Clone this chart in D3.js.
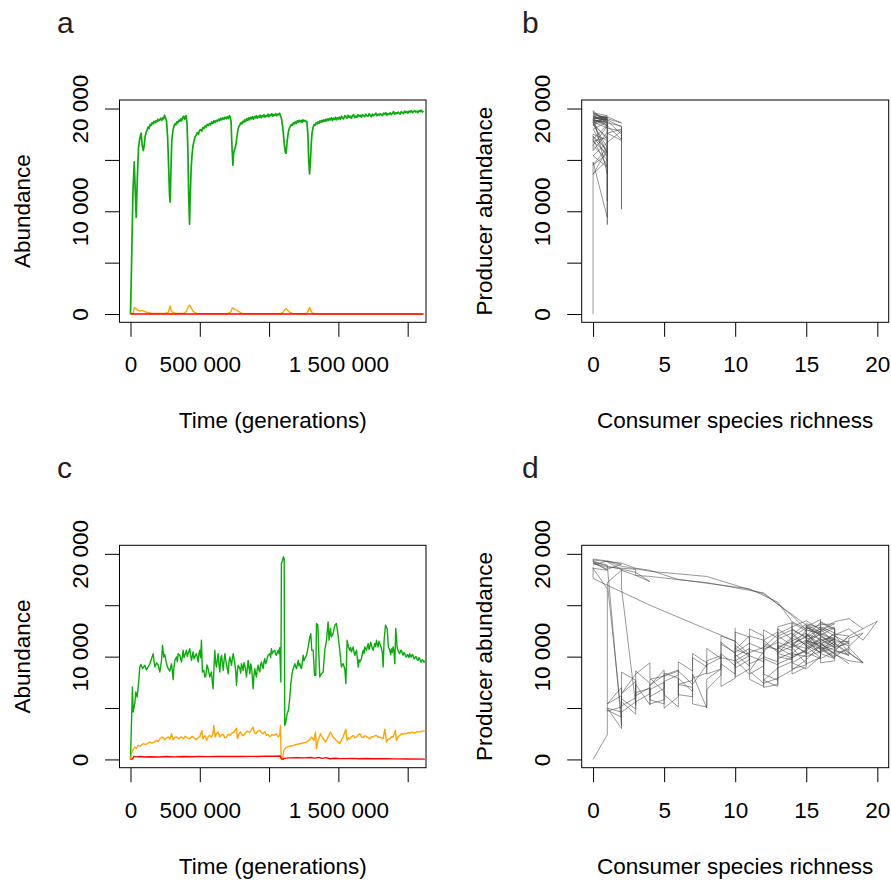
<!DOCTYPE html>
<html>
<head>
<meta charset="utf-8">
<script src="https://cdn.jsdelivr.net/npm/d3@7"></script>
<style>
  body { margin: 0; background: #fff; }
</style>
</head>
<body>
<svg id="fig" width="891" height="882"></svg>
<script>
// time in thousands of generations, abundance in individuals
const timeTicks = [0, 500000, 1000000, 1500000, 2000000];
const timeTickLabels = ["0", "500 000", "", "1 500 000", ""];
const abundTicks = [0, 5000, 10000, 15000, 20000];
const abundTickLabels = ["0", "", "10 000", "", "20 000"];
const richTicks = [0, 5, 10, 15, 20];
const richTickLabels = ["0", "5", "10", "15", "20"];

// panel a: producers (green), consumers (orange), predators (red)
const aProducers = [[0,0],[8,5000],[18,12000],[27,14800],[33,12500],[41,9400],[50,13500],[58,16200],[65,16900],[72,17400],[77,17600],[84,16500],[92,15900],[98,16300],[106,17300],[113,17700],
  [120,17900],[127,18200],[134,18050],[141,18450],[148,18350],[155,18600],[162,18500],[169,18750],[176,18600],[183,18800],[190,18700],[197,18950],[204,18800],[211,18900],[218,19050],[225,18850],[232,19100],[239,19000],[246,19350],[252,19100],
  [260,18800],[268,17200],[276,14000],[282,11500],[286,10900],[291,13500],[298,16900],
  [306,17800],[313,18250],[320,18500],[327,18400],[334,18700],[341,18600],[348,18850],[355,18750],[362,19000],[369,18800],[376,19100],[383,19250],[390,18950],[396,19200],[401,19300],
  [408,18500],[414,16000],[420,11500],[426,8740],[432,11800],[438,14200],[443,15300],[450,16300],
  [458,16800],[466,17250],[474,17400],[482,17650],[490,17500],[498,17850],[506,17950],[514,17800],[522,18150],[530,18050],[538,18300],[546,18200],[554,18450],[562,18350],[570,18550],[578,18400],[586,18700],[594,18550],[602,18800],[610,18650],[618,18850],[626,18750],[634,18950],[642,18800],[650,19050],[658,18900],[666,19100],[674,18950],[682,19150],[690,19000],[698,19200],[706,19050],[714,19300],[720,19150],
  [726,18700],[730,17000],[735,15500],[739,14480],[744,15600],[750,16000],[756,16200],[762,16600],[768,17300],
  [775,17900],[782,18250],[789,18400],[796,18600],[803,18500],[810,18750],[817,18650],[824,18900],[831,18750],[838,19000],[845,18850],[852,19100],[859,18900],[866,19150],[873,19000],[880,19200],[887,18950],[894,19200],[901,19100],[908,19300],[915,19050],[922,19250],[929,19150],[936,19350],[943,19100],[950,19300],[957,19200],[964,19400],[971,19150],[978,19300],[985,19250],[992,19450],[999,19200],[1006,19400],[1013,19300],[1020,19500],[1027,19250],[1034,19400],[1041,19350],[1048,19500],[1055,19300],[1062,19450],[1069,19400],[1076,19550],[1082,19300],
  [1090,19000],[1100,18000],[1110,16500],[1118,15700],[1123,15650],[1130,16800],
  [1140,17800],[1147,18100],[1154,18300],[1161,18450],[1168,18350],[1175,18600],[1182,18500],[1189,18700],[1196,18550],[1203,18800],[1210,18650],[1217,18850],[1224,18700],[1231,18850],[1238,18650],[1245,18900],[1252,18750],[1259,18850],[1266,18700],[1272,18750],
  [1280,17500],[1286,15000],[1292,13640],[1298,14800],[1304,16500],[1310,17600],
  [1318,18200],[1325,18450],[1332,18350],[1339,18600],[1346,18500],[1353,18700],[1360,18550],[1367,18800],[1374,18650],[1381,18850],[1388,18700],[1395,18900],[1402,18750],[1409,18950],[1416,18800],[1423,19000],[1430,18850],[1437,19050],[1444,18900],[1451,19100],[1458,18850],[1465,19050],[1472,18950],[1479,19150],[1486,18900],[1493,19100],[1500,19000],
  [1506,19150],[1514,18950],[1522,19250],[1530,19100],[1538,19000],[1546,19300],[1554,19200],[1562,19050],[1570,19350],[1578,19150],[1586,19250],[1594,19050],[1602,19300],[1610,19400],[1618,19100],[1626,19250],[1634,19150],[1642,19400],[1650,19250],[1658,19350],[1666,19150],[1674,19400],[1682,19300],[1690,19200],[1698,19450],[1706,19300],[1714,19250],[1722,19500],[1730,19350],[1738,19200],[1746,19450],[1754,19300],[1762,19400],[1770,19550],[1778,19300],[1786,19450],[1794,19350],[1802,19500],[1810,19400],[1818,19300],[1826,19550],[1834,19450],[1842,19600],[1850,19350],[1858,19500],[1866,19450],[1874,19600],[1882,19400],[1890,19550],[1898,19700],[1906,19450],[1914,19600],[1922,19500],[1930,19650],[1938,19550],[1946,19450],[1954,19700],[1962,19600],[1970,19500],[1978,19750],[1986,19600],[1994,19700],[2002,19550],[2010,19750],[2018,19650],[2026,19800],[2034,19600],[2042,19700],[2050,19800],[2058,19650],[2066,19750],[2074,19600],[2082,19800],[2090,19700],[2098,19850],[2106,19650],[2114,19750]];
const aConsumers = [[0,0],[20,100],[28,650],[40,500],[55,350],[70,300],[85,350],[100,250],[120,150],[150,80],[200,50],[250,60],[272,150],[280,500],[286,780],[292,400],[300,200],[315,100],[340,60],[390,80],[405,300],[415,650],[426,880],[438,600],[450,300],[465,150],[480,60],[520,30],[700,30],[725,200],[733,550],[739,600],[750,450],[765,400],[780,250],[800,80],[830,30],[1080,30],[1100,150],[1112,400],[1123,520],[1135,350],[1150,150],[1170,60],[1200,30],[1270,30],[1282,300],[1292,650],[1300,400],[1310,100],[1330,30],[1400,0],[2114,0]];
const aPredators = [[0,0],[500,0],[1000,0],[1500,0],[2114,0]];

// panel b: producer abundance against consumer richness
const bTrajectory = [[0,0],[0,14800],[1,9400],[1,16900],[0,17500],[0,15900],[1,17700],[1,18700],[0,18800],[1,19000],[0,19100],[1,18900],[1,17200],[0,16800],[1,15600],[0,14500],[1,16200],[0,18500],[1,19200],[1,11000],[1,17000],[0,18600],[0,19000],[1,19300],[0,19600],[0,19800],[1,18500],[1,8700],[1,15300],[0,17300],[1,16000],[0,13600],[1,15000],[0,16400],[1,18300],[0,18900],[1,18600],[2,18300],[2,16900],[1,17600],[2,18000],[2,10200],[2,17500],[1,18800],[0,19200],[1,19100],[0,18700],[1,18100],[2,17800],[1,16700],[0,15400],[1,14300],[0,17000],[1,18400],[0,19000],[1,19200],[2,18600],[1,19000],[0,18600],[1,15650],[0,18000],[1,18700],[0,19300],[1,13640],[1,17200],[0,18400],[1,18900],[2,18200],[2,17000],[1,18300],[0,19400],[1,19100],[0,19500],[1,18900],[0,19600]];

// panel c
const cProducers = [[0,0],[14,7050],[19,4610],[31,5420],[38,6560],[48,6070],[58,7370],[67,8990],[75,9250],[87,8830],[103,9160],[115,8700],[127,8990],[140,9300],[152,9810],[164,10290],[170,9500],[176,8990],[188,9400],[200,9160],[212,8510],[224,9640],[231,11100],[240,9970],[248,10200],[255,9640],[264,9100],[272,8830],[284,8600],[296,9320],[308,7760],[314,9000],[320,9640],[332,9970],[338,9500],[344,10290],[356,10130],[368,9480],[380,10620],[386,9900],[392,10130],[404,10620],[410,10000],[416,10290],[428,10780],[434,10100],[440,9640],[452,10460],[458,9800],[464,9970],[476,10290],[488,9480],[494,10300],[500,10620],[506,9900],[512,11590],[519,8510],[529,8670],[537,8000],[544,8180],[552,9200],[560,8830],[572,8020],[584,8510],[590,7600],[596,6880],[608,10620],[614,9500],[620,8990],[632,10290],[638,9300],[645,8510],[651,9800],[657,10130],[669,8670],[675,9600],[681,10290],[693,9160],[699,8800],[705,8340],[711,9500],[717,9970],[729,9160],[735,9800],[741,10290],[753,9320],[759,8600],[765,7210],[771,8500],[777,9160],[789,8830],[795,8400],[801,9320],[813,8670],[819,9400],[825,9160],[831,8600],[837,8020],[843,8900],[849,9640],[855,8900],[861,8340],[867,9300],[873,8990],[879,8000],[885,6880],[891,8200],[897,8830],[903,8300],[909,8020],[915,8800],[921,9160],[927,8700],[933,8510],[939,9200],[945,9480],[951,9100],[957,8830],[963,9500],[969,9810],[975,9300],[981,9480],[987,9900],[993,10130],[1005,10290],[1011,9900],[1017,10780],[1023,10300],[1029,10460],[1041,10620],[1047,10200],[1053,10130],[1065,10620],[1071,10300],[1077,10880],[1085,7530],[1089,19060],[1097,19380],[1104,19710],[1109,19550],[1113,3310],[1121,3640],[1130,4450],[1140,4770],[1150,6070],[1157,7370],[1166,8340],[1174,8830],[1186,9320],[1192,9000],[1198,8830],[1210,9640],[1216,9100],[1222,9320],[1228,9000],[1234,8830],[1246,10130],[1252,9600],[1258,9810],[1270,10130],[1276,10500],[1282,10940],[1294,11920],[1301,12240],[1308,10620],[1318,10620],[1328,8180],[1337,8180],[1342,13220],[1352,13050],[1359,10290],[1366,8020],[1378,8340],[1390,8510],[1402,10620],[1414,11590],[1426,13380],[1433,11590],[1443,12730],[1450,11920],[1462,12240],[1474,13050],[1486,13220],[1498,12080],[1510,10620],[1522,8990],[1534,9320],[1546,8830],[1554,7370],[1563,11590],[1573,10940],[1582,10620],[1588,10900],[1594,10460],[1607,10940],[1613,10400],[1619,10130],[1631,10620],[1643,8990],[1649,9700],[1655,9480],[1667,9810],[1673,10300],[1679,10620],[1685,10300],[1691,10940],[1703,10620],[1709,11000],[1715,11270],[1721,10700],[1727,10940],[1733,11400],[1739,11100],[1745,10800],[1751,10620],[1757,11000],[1763,11270],[1769,11000],[1775,11590],[1781,11200],[1787,10940],[1793,11500],[1799,11270],[1805,11000],[1811,10780],[1817,10400],[1823,8990],[1830,11590],[1840,13050],[1852,12730],[1861,10940],[1871,10620],[1877,10200],[1883,10780],[1889,10400],[1895,10940],[1901,10500],[1907,9320],[1914,12730],[1924,10940],[1934,10460],[1943,10290],[1949,10600],[1955,10620],[1961,10300],[1967,10130],[1973,10400],[1979,10290],[1985,10000],[1991,9970],[1997,10200],[2003,10130],[2009,9900],[2015,10290],[2021,10000],[2027,9970],[2033,10200],[2039,10130],[2045,9800],[2051,9810],[2057,10000],[2063,9970],[2069,9700],[2075,9640],[2081,9900],[2087,9810],[2093,9500],[2099,9480],[2105,9700],[2111,9640],[2117,9450],[2124,9580]];
const cConsumers = [[0,0],[14,880],[31,1200],[43,1100],[55,1360],[70,1300],[91,1530],[110,1450],[139,1690],[160,1600],[188,1850],[200,1750],[212,2010],[231,2180],[248,1920],[260,2100],[272,2180],[285,2000],[296,2500],[308,1920],[320,2150],[332,2180],[350,2000],[365,2200],[380,2010],[395,2250],[410,2100],[428,2010],[445,2250],[460,2050],[476,1920],[488,2150],[500,2180],[515,2820],[522,2000],[529,2180],[538,2300],[548,1850],[560,2200],[572,2340],[584,2150],[596,2570],[601,3310],[611,2180],[620,2500],[632,2660],[645,2180],[657,2400],[669,2440],[681,2100],[693,2180],[705,2450],[717,2340],[731,2550],[746,2660],[765,3050],[772,2010],[783,2500],[794,2660],[810,2300],[825,2500],[840,2750],[861,2660],[873,2900],[885,3150],[894,2600],[904,2500],[918,2750],[933,2820],[945,2600],[957,2500],[969,2700],[981,2340],[993,2450],[1005,2180],[1020,2400],[1041,2340],[1053,2500],[1065,2180],[1077,2340],[1082,3310],[1087,230],[1097,60],[1106,880],[1125,1200],[1150,1300],[1174,1360],[1198,1450],[1222,1530],[1246,1600],[1270,1690],[1294,1920],[1308,2180],[1323,1850],[1335,2660],[1342,1040],[1354,1850],[1371,2500],[1390,2010],[1409,1690],[1426,2180],[1443,2660],[1462,2180],[1486,1850],[1498,1700],[1510,1530],[1522,1900],[1534,2180],[1554,2950],[1563,1850],[1572,2100],[1582,2010],[1594,2200],[1607,2340],[1619,2100],[1631,2180],[1643,2350],[1655,2500],[1667,2200],[1679,2110],[1691,2300],[1703,2240],[1715,2100],[1727,2010],[1739,2200],[1751,2180],[1763,2300],[1775,2340],[1787,2150],[1799,2180],[1811,2100],[1823,2010],[1835,2950],[1847,1690],[1859,2000],[1871,2010],[1883,2200],[1895,2180],[1911,2820],[1919,1850],[1931,2200],[1943,2340],[1955,2500],[1967,2440],[1979,2550],[1991,2500],[2003,2600],[2015,2570],[2033,2650],[2051,2570],[2069,2700],[2087,2660],[2105,2750],[2124,2760]];
const cPredators = [[0,0],[14,50],[25,300],[45,250],[70,280],[100,230],[140,260],[200,240],[260,280],[320,250],[380,290],[440,260],[500,300],[560,270],[620,300],[680,280],[740,290],[800,280],[860,300],[920,290],[980,320],[1040,310],[1080,330],[1088,50],[1100,0],[1110,100],[1140,150],[1200,160],[1260,150],[1300,190],[1330,130],[1360,200],[1380,100],[1410,170],[1440,70],[1470,120],[1500,90],[1550,80],[1600,100],[1650,60],[1700,90],[1750,60],[1800,80],[1850,60],[1900,50],[2000,40],[2124,30]];

// panel d: several trajectories of producer abundance against consumer richness
const dRunA = [[0,0],[1,2400],[1,4800],[2,4100],[2,6200],[1,5400],[2,7000],[2,5200],[3,6000],[3,8600],[4,7400],[4,6100],[5,6900],[5,8700],[4,7200],[5,8200],[6,8700],[6,7300],[7,7700],[7,10300],[8,9400],[8,8300],[9,8800],[9,11400],[10,10300],[10,8900],[11,9700],[11,11900],[10,12400],[10,9700],[11,8300],[12,9100],[12,11300],[13,10600],[13,12700],[14,11700],[14,9500],[13,8900],[12,7700],[13,7100],[13,9300],[14,9900],[15,10600],[15,12100],[16,11300],[16,9900],[15,9300],[14,10900],[15,12600],[16,12200],[17,11600],[17,9900],[16,10700],[15,11400],[16,12900],[17,12300],[16,11100],[15,9700],[14,8700],[13,7900],[12,7400],[11,8600],[12,10500],[13,11700],[14,12300],[15,11000],[16,11700],[17,10900],[18,11300],[17,12000],[16,12800],[15,13200],[14,12100],[15,11100],[16,10400],[17,11500],[16,11900],[15,10500],[14,10100],[13,10900],[14,11500],[15,12300],[16,10900],[17,9800],[16,10300],[15,11700],[16,12100],[17,11100],[16,12000],[14,14100],[12,16100],[8,17800],[4,18300],[2,18800],[1,19300],[0,19500]];
const dRunB = [[0,19500],[0,19200],[1,18900],[2,3300],[2,5900],[3,4900],[3,7300],[4,5300],[4,6800],[5,7500],[5,6300],[6,5100],[6,7900],[7,6600],[7,8300],[8,5000],[8,7800],[9,8800],[9,10300],[10,9100],[10,11100],[11,10000],[11,7800],[12,7100],[12,9800],[13,9200],[13,12400],[12,11600],[13,10400],[14,11000],[14,13300],[15,12500],[15,10200],[14,9400],[15,8800],[16,10000],[16,13400],[17,12700],[17,10600],[18,10200],[18,11800],[19,12300],[18,11000],[17,11700],[16,11300],[17,10200],[18,9600],[19,9400],[18,10400],[17,12100],[18,12700],[19,11600],[20,13450],[18,12000],[17,10900],[16,11700],[15,12200],[16,10800],[17,11400],[18,11500],[17,10700]];
const dRunC = [[0,18900],[1,19300],[2,19000],[1,18500],[0,19100],[1,18700],[3,18500],[3,17900],[4,17800],[8,17200],[12,16200],[14,14000],[15,12600],[16,12300],[16,13600],[15,12900],[16,12100],[17,12800],[17,11100],[16,10700],[15,11900],[14,11300],[15,10300],[16,11000],[17,10300],[18,10700]];
const dRunD = [[0,19400],[2,19100],[3,18600],[4,18400],[6,17500],[11,16600],[13,15300],[14,13400],[15,12700],[16,13100],[17,13200],[16,12500],[15,11400],[16,10400],[17,10900]];
const dRunE = [[0,18700],[0,17600],[4,15000],[10,11500],[11,10200],[10,10700],[11,12000],[12,11600],[12,10000],[13,9500],[13,11100],[14,10600]];
const dRunF = [[0,19200],[1,18400],[0,18600],[1,16600],[1,4700],[2,5100],[2,8500],[3,7700],[3,6200],[4,7000],[4,5800],[5,5400],[5,7600],[6,8200],[6,9500],[7,8600],[7,9900],[8,9000],[8,10800],[9,9800],[9,12000],[10,11500],[10,10000],[11,10800],[11,9300],[12,9900],[12,12600],[13,11800],[13,10000],[14,9700],[14,12700],[15,11800],[15,13000],[16,11500]];
const dRunG = [[1,19200],[2,18500],[2,16700],[3,5300],[3,7600],[2,6400],[3,8300],[4,9400],[4,7900],[5,6600],[5,5000],[6,6100],[6,7300],[7,7000],[7,5400],[8,5100],[8,6800],[9,8200],[9,9300],[10,8300],[10,10200],[11,9100],[11,10700],[12,10300],[12,8300],[13,7700],[13,9800],[14,10400],[14,8800],[15,9200],[15,11000],[16,9900],[16,11300],[17,10300],[18,9300]];
const dRunH = [[0,19300],[1,18800],[3,18200],[4,17300],[3,17900],[2,18400],[1,17200],[2,4200],[2,3000],[1,5000],[2,4600],[3,5600],[4,6400],[4,7800],[5,8100],[6,8600],[7,7300],[8,9200],[9,9900],[10,9600],[11,10400],[12,10900],[13,12200],[14,12900],[15,13500],[16,12600],[17,13400],[18,13700],[19,12700]];
const dRunI = [[10,12800],[10,8000],[11,8800],[11,12700],[12,12000],[12,7000],[13,7300],[13,12900],[14,13300],[14,8300],[15,9000],[15,13100],[16,12400],[16,9400],[17,9600],[17,12600],[16,13300],[15,12000],[14,11200],[15,10800],[16,11600],[17,11900],[16,10500],[15,10000],[14,10300],[15,11500],[16,11200],[17,10600],[18,10100],[17,11300]];
const dRunJ = [[9,11200],[10,10400],[11,11300],[12,10700],[13,11400],[14,10900],[15,11600],[16,11000],[17,11700],[16,12300],[15,11200],[14,11800],[13,10300],[14,9900],[15,10700],[16,11400],[17,12200],[18,12000],[17,10500],[16,9800],[15,10400],[14,11100],[13,12000],[14,12600],[15,11900],[16,12700],[17,11300],[19,9400],[18,10900],[17,10000],[16,10900]];
const dRunK = [[2,5600],[3,4400],[3,6500],[4,6900],[4,5400],[5,5800],[5,8400],[6,7900],[6,6300],[7,6100],[7,7900],[8,8400],[8,9600],[9,10100],[9,7100],[10,7900],[10,9300],[11,10100],[12,9500],[12,11000],[13,10700],[14,11900],[15,12800],[16,12400],[17,12900]];
const dRuns = [dRunA, dRunB, dRunC, dRunD, dRunE, dRunF, dRunG, dRunH, dRunI, dRunJ, dRunK];

const FONT = '"Liberation Sans", Arial, Helvetica, sans-serif';
const GREEN = "#0aab0a", ORANGE = "#ffa500", RED = "#ff0000";
const svg = d3.select("#fig");
svg.append("rect").attr("width", 891).attr("height", 882).attr("fill", "#fff");

// sets up box, axes and labels of one panel, returns the scales
function makePanel(p) {
  const x = d3.scaleLinear().domain(p.xDomain).range([p.x0, p.x1]);
  const y = d3.scaleLinear().domain([-805, 20830]).range([p.y1, p.y0]);
  const g = svg.append("g");

  const ax = g.append("g")
    .attr("transform", `translate(0,${p.y1})`)
    .call(d3.axisBottom(x).tickValues(p.xTicks).tickSize(14.5).tickSizeOuter(0)
      .tickFormat((d, i) => p.xLabels[i]));
  ax.select(".domain").remove();
  ax.attr("font-family", FONT).attr("font-size", 22.5);
  ax.selectAll(".tick line").attr("stroke", "#000");
  ax.selectAll(".tick text").attr("y", 50).attr("dy", null).attr("fill", "#000");

  const ay = g.append("g")
    .attr("transform", `translate(${p.x0},0)`)
    .call(d3.axisLeft(y).tickValues(abundTicks).tickSize(14.5).tickSizeOuter(0)
      .tickFormat((d, i) => abundTickLabels[i]));
  ay.select(".domain").remove();
  ay.attr("font-family", FONT).attr("font-size", 22.5);
  ay.selectAll(".tick line").attr("stroke", "#000");
  ay.selectAll(".tick text")
    .attr("x", 0).attr("dy", null).attr("text-anchor", "middle").attr("fill", "#000")
    .attr("transform", "translate(-32,0) rotate(-90)");

  g.append("rect")
    .attr("x", p.x0).attr("y", p.y0)
    .attr("width", p.x1 - p.x0).attr("height", p.y1 - p.y0)
    .attr("fill", "none").attr("stroke", "#000").attr("stroke-width", 1);

  g.append("text")
    .attr("x", (p.x0 + p.x1) / 2).attr("y", p.y1 + 106)
    .attr("text-anchor", "middle").attr("font-family", FONT).attr("font-size", 22.5)
    .text(p.xTitle);
  g.append("text")
    .attr("transform", `translate(${p.x0 - 90},${(p.y0 + p.y1) / 2}) rotate(-90)`)
    .attr("text-anchor", "middle").attr("font-family", FONT).attr("font-size", 22.5)
    .text(p.yTitle);
  g.append("text")
    .attr("x", p.letterX).attr("y", p.y0 - 67)
    .attr("font-family", FONT).attr("font-size", 30).attr("fill", "#231f20")
    .text(p.letter);
  return { x, y, g };
}

function timePanel(p, series) {
  const { x, y, g } = makePanel(Object.assign({
    xDomain: [-79300, 2132200], xTicks: timeTicks, xLabels: timeTickLabels,
    xTitle: "Time (generations)", yTitle: "Abundance", x0: 119.5, x1: 426, letterX: 57
  }, p));
  const line = d3.line().x(d => x(d[0] * 1000)).y(d => y(d[1]));
  series.forEach(s => {
    g.append("path").datum(s.data).attr("d", line)
      .attr("fill", "none").attr("stroke", s.color).attr("stroke-width", s.width)
      .attr("stroke-linejoin", "round");
  });
}

function richPanel(p, runs) {
  const { x, y, g } = makePanel(Object.assign({
    xDomain: [-0.8, 20.8], xTicks: richTicks, xLabels: richTickLabels,
    xTitle: "Consumer species richness", yTitle: "Producer abundance", x0: 581.7, x1: 888.7, letterX: 522
  }, p));
  const line = d3.line().x(d => x(d[0])).y(d => y(d[1]));
  runs.forEach(r => {
    g.append("path").datum(r).attr("d", line)
      .attr("fill", "none").attr("stroke", "#444").attr("stroke-opacity", 0.55)
      .attr("stroke-width", 1);
  });
}

timePanel({ y0: 100, y1: 322.3, letter: "a" },
  [{ data: aProducers, color: GREEN, width: 1.7 }, { data: aConsumers, color: ORANGE, width: 1.4 }, { data: aPredators, color: RED, width: 1.4 }]);
richPanel({ y0: 100, y1: 322.3, letter: "b" }, [bTrajectory]);
timePanel({ y0: 545.3, y1: 767.7, letter: "c" },
  [{ data: cProducers, color: GREEN, width: 1.4 }, { data: cConsumers, color: ORANGE, width: 1.4 }, { data: cPredators, color: RED, width: 1.4 }]);
richPanel({ y0: 545.3, y1: 767.7, letter: "d" }, dRuns);
</script>
</body>
</html>
